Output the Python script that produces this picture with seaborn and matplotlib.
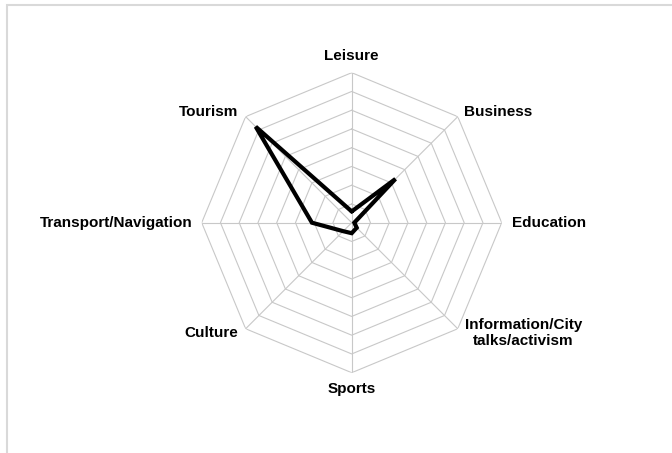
import numpy as np
import pandas as pd
import seaborn as sns
import matplotlib.pyplot as plt
from matplotlib.patches import Rectangle

# Data (clockwise from the top)
categories = ["Leisure", "Business", "Education", "Information/City\ntalks/activism",
              "Sports", "Culture", "Transport/Navigation", "Tourism"]
values = [3.0, 16.5, 0.7, 1.9, 2.8, 3.2, 10.6, 36.2]
ring_levels = [5, 10, 15, 20, 25, 30, 35, 40]
r_max = 40

sns.set_theme(style="white")
plt.rcParams['font.family'] = ['Liberation Sans', 'DejaVu Sans']

fig = plt.figure(figsize=(6.72, 4.53), dpi=100)
fig.patch.set_facecolor("white")

# outer frame (light grey, cut off at right/bottom)
fig.add_artist(Rectangle((7 / 672, -0.05), 1.1, (453 - 5) / 453 + 0.05,
                         transform=fig.transFigure, fill=False,
                         edgecolor="#d9d9d9", lw=1.5))

cx, cy, R = 351.7 / 672, (453 - 222.7) / 453, 150
w, h = 2 * R / 672, 2 * R / 453
ax = fig.add_axes([cx - w / 2, cy - h / 2, w, h], projection="polar")
ax.set_theta_offset(np.pi / 2)
ax.set_theta_direction(-1)
ax.set_ylim(0, r_max)
ax.grid(False)
ax.spines["polar"].set_visible(False)
ax.set_xticks([])
ax.set_yticks([])
ax.set_facecolor("none")

n = len(categories)
angles = np.linspace(0, 2 * np.pi, n, endpoint=False)
closed = np.append(angles, 2 * np.pi)

# octagonal rings and spokes
for lvl in ring_levels:
    ax.plot(closed, [lvl] * (n + 1), color="#c8c8c8", lw=0.8, zorder=1)
for a in angles:
    ax.plot([a, a], [0, r_max], color="#c8c8c8", lw=0.8, zorder=1)

df = pd.DataFrame({"angle": closed, "value": values + [values[0]]})
line = sns.lineplot(data=df, x="angle", y="value", sort=False, estimator=None,
                    ax=ax, color="black", lw=3.0, zorder=3)
ax.lines[-1].set_solid_joinstyle("miter")
ax.set_xlabel("")
ax.set_ylabel("")

# label offsets in pixels relative to the outer vertex
offsets = [(0, 17, "center"), (6, 5, "left"), (10, 0, "left"), (7, -4, "left"),
           (0, -16, "center"), (-8, -4, "right"), (-9, 0, "right"), (-7, 5, "right")]
for a, lab, (dx, dy, ha) in zip(angles, categories, offsets):
    ax.annotate(lab, xy=(a, r_max), xytext=(dx * 0.72, dy * 0.72),
                textcoords="offset points", ha=ha, va="center", ma="center",
                fontsize=11, fontweight="bold", color="black",
                annotation_clip=False, linespacing=1.15)

fig.savefig("out.png", dpi=100)
